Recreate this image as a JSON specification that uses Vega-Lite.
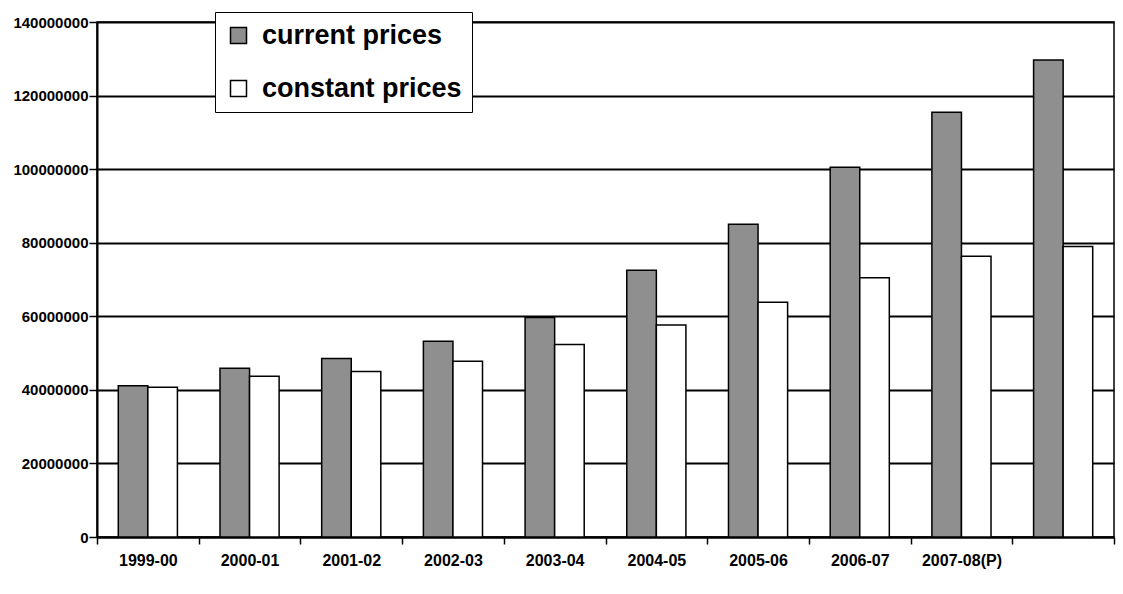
{
  "$schema": "https://vega.github.io/schema/vega-lite/v6.json",
  "width": 1017,
  "height": 515,
  "autosize": {"type": "none"},
  "padding": {"left": 97, "top": 22, "right": 9, "bottom": 57},
  "background": "white",
  "config": {
    "view": {"stroke": "black", "strokeWidth": 1.5},
    "font": "Liberation Sans"
  },
  "data": {
    "values": [
      {"year": "1999-00", "series": "current prices", "value": 41100000},
      {"year": "1999-00", "series": "constant prices", "value": 40700000},
      {"year": "2000-01", "series": "current prices", "value": 45900000},
      {"year": "2000-01", "series": "constant prices", "value": 43700000},
      {"year": "2001-02", "series": "current prices", "value": 48500000},
      {"year": "2001-02", "series": "constant prices", "value": 45000000},
      {"year": "2002-03", "series": "current prices", "value": 53200000},
      {"year": "2002-03", "series": "constant prices", "value": 47800000},
      {"year": "2003-04", "series": "current prices", "value": 59700000},
      {"year": "2003-04", "series": "constant prices", "value": 52300000},
      {"year": "2004-05", "series": "current prices", "value": 72500000},
      {"year": "2004-05", "series": "constant prices", "value": 57600000},
      {"year": "2005-06", "series": "current prices", "value": 85000000},
      {"year": "2005-06", "series": "constant prices", "value": 63800000},
      {"year": "2006-07", "series": "current prices", "value": 100500000},
      {"year": "2006-07", "series": "constant prices", "value": 70500000},
      {"year": "2007-08(P)", "series": "current prices", "value": 115500000},
      {"year": "2007-08(P)", "series": "constant prices", "value": 76300000},
      {"year": "2008-09", "series": "current prices", "value": 129700000},
      {"year": "2008-09", "series": "constant prices", "value": 79000000}
    ]
  },
  "mark": {"type": "bar", "stroke": "black", "strokeWidth": 1.5},
  "encoding": {
    "x": {
      "field": "year",
      "type": "nominal",
      "sort": null,
      "scale": {"paddingInner": 0, "paddingOuter": 0},
      "axis": {
        "title": null,
        "labelAngle": 0,
        "labelOverlap": false,
        "tickBand": "extent",
        "domainColor": "black",
        "domainWidth": 2,
        "tickColor": "black",
        "tickWidth": 1.5,
        "tickSize": 7,
        "labelFontSize": 16,
        "labelFontWeight": "bold",
        "labelColor": "black",
        "labelPadding": 8,
        "labelExpr": "datum.value == '2008-09' ? '' : datum.label",
        "grid": false
      }
    },
    "xOffset": {
      "field": "series",
      "type": "nominal",
      "sort": ["current prices", "constant prices"],
      "scale": {"paddingOuter": 0.72, "paddingInner": 0}
    },
    "y": {
      "field": "value",
      "type": "quantitative",
      "scale": {"domain": [0, 140000000]},
      "axis": {
        "title": null,
        "values": [0, 20000000, 40000000, 60000000, 80000000, 100000000, 120000000, 140000000],
        "format": "d",
        "grid": true,
        "gridColor": "black",
        "gridWidth": 2,
        "gridOpacity": 1,
        "domainColor": "black",
        "domainWidth": 2,
        "tickColor": "black",
        "tickWidth": 1.5,
        "tickSize": 8,
        "labelFontSize": 15,
        "labelFontWeight": "bold",
        "labelPadding": 1,
        "labelColor": "black"
      }
    },
    "fill": {
      "field": "series",
      "type": "nominal",
      "scale": {"domain": ["current prices", "constant prices"], "range": ["#8f8f8f", "#ffffff"]},
      "legend": {
        "title": null,
        "orient": "none",
        "legendX": 118,
        "legendY": -10,
        "direction": "vertical",
        "fillColor": "white",
        "strokeColor": "black",
        "padding": 10,
        "rowPadding": 25,
        "labelFontSize": 27,
        "labelFontWeight": "bold",
        "labelColor": "black",
        "labelLimit": 0,
        "labelOffset": 10,
        "symbolType": "square",
        "symbolSize": 256,
        "symbolStrokeColor": "black",
        "symbolStrokeWidth": 1.5
      }
    }
  }
}
